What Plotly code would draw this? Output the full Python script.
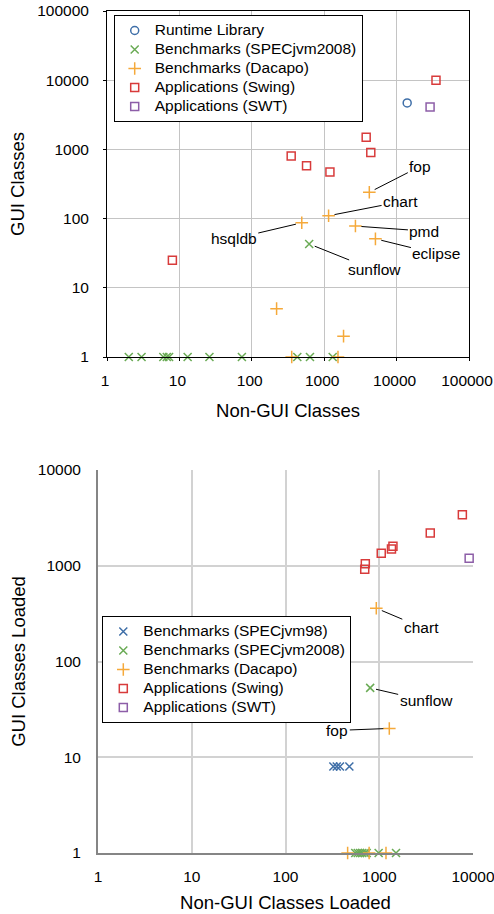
import numpy as np
import plotly.graph_objects as go

# ---------------- data: top chart (static class counts) ----------------
runtime_x = [14000]
runtime_y = [4700]
spec08_top_x = [2.0, 3.0, 6.0, 6.7, 7.2, 13, 26, 73, 425, 636, 1310, 620]
spec08_top_y = [1, 1, 1, 1, 1, 1, 1, 1, 1, 1, 1, 43]
dacapo_top_x = [4200, 1150, 490, 2700, 5100, 220, 1850, 356, 1550]
dacapo_top_y = [240, 110, 87, 78, 51, 5, 2, 1, 1]
swing_top_x = [35000, 3800, 4400, 350, 570, 1200, 8]
swing_top_y = [10000, 1500, 900, 800, 580, 470, 25]
swt_top_x = [29000]
swt_top_y = [4100]
top_labels = ["fop", "chart", "hsqldb", "pmd", "eclipse", "sunflow"]
top_label_x = [4200, 1150, 490, 2700, 5100, 620]
top_label_y = [240, 110, 87, 78, 51, 43]

# ---------------- data: bottom chart (loaded class counts) ----------------
spec98_x = [324, 352, 381, 480]
spec98_y = [8, 8, 8, 8]
spec08_bot_x = [800, 555, 590, 625, 660, 700, 735, 985, 1510]
spec08_bot_y = [53, 1, 1, 1, 1, 1, 1, 1, 1]
dacapo_bot_x = [930, 1280, 460, 780, 1180]
dacapo_bot_y = [360, 20, 1, 1, 1]
swing_bot_x = [7700, 3500, 1400, 1350, 1050, 710, 700]
swing_bot_y = [3400, 2200, 1600, 1500, 1350, 1050, 920]
swt_bot_x = [9100]
swt_bot_y = [1200]
bot_labels = ["chart", "sunflow", "fop"]
bot_label_x = [930, 800, 1280]
bot_label_y = [360, 53, 20]

series_names = {
    "runtime": "Runtime Library",
    "spec98": "Benchmarks (SPECjvm98)",
    "spec08": "Benchmarks (SPECjvm2008)",
    "dacapo": "Benchmarks (Dacapo)",
    "swing": "Applications (Swing)",
    "swt": "Applications (SWT)",
}

top_ticks = [1, 10, 100, 1000, 10000, 100000]
bot_ticks = [1, 10, 100, 1000, 10000]

BLUE = "#3f6fa8"
GREEN = "#6aab55"
ORANGE = "#f5a93a"
RED = "#d83b3b"
PURPLE = "#8d5ea8"
FONT = "Helvetica, Liberation Sans, Arial, sans-serif"

fig = go.Figure()


def legend_name(key):
    # text drawn at full size; legend row spacing driven by the smaller legend font
    return '<span style="font-size:15.5px">%s</span>' % series_names[key]


def add(x, y, key, sym, color, size, xa, ya, legend):
    fig.add_trace(go.Scatter(
        x=x, y=y, mode="markers", name=legend_name(key), xaxis=xa, yaxis=ya,
        legend=legend, cliponaxis=False, hoverinfo="x+y",
        marker=dict(symbol=sym, size=size, color=color,
                    line=dict(color=color, width=1.5)),
    ))


add(runtime_x, runtime_y, "runtime", "circle-open", BLUE, 8, "x", "y", "legend")
add(spec08_top_x, spec08_top_y, "spec08", "x-thin-open", GREEN, 8, "x", "y", "legend")
add(dacapo_top_x, dacapo_top_y, "dacapo", "cross-thin-open", ORANGE, 9, "x", "y", "legend")
add(swing_top_x, swing_top_y, "swing", "square-open", RED, 8, "x", "y", "legend")
add(swt_top_x, swt_top_y, "swt", "square-open", PURPLE, 8, "x", "y", "legend")

add(spec98_x, spec98_y, "spec98", "x-thin-open", BLUE, 8, "x2", "y2", "legend2")
add(spec08_bot_x, spec08_bot_y, "spec08", "x-thin-open", GREEN, 8, "x2", "y2", "legend2")
add(dacapo_bot_x, dacapo_bot_y, "dacapo", "cross-thin-open", ORANGE, 9, "x2", "y2", "legend2")
add(swing_bot_x, swing_bot_y, "swing", "square-open", RED, 8, "x2", "y2", "legend2")
add(swt_bot_x, swt_bot_y, "swt", "square-open", PURPLE, 8, "x2", "y2", "legend2")

# label offsets (pixels) for leader lines
top_off = {"fop": (51, -26), "chart": (72, -14), "hsqldb": (-68, 16),
           "pmd": (69, 5), "eclipse": (61, 15), "sunflow": (65, 26)}
bot_off = {"chart": (45, 19), "sunflow": (56, 13), "fop": (-52, 2)}

annots = []
for lab, lx, ly in zip(top_labels, top_label_x, top_label_y):
    ax, ay = top_off[lab]
    annots.append(dict(x=np.log10(lx), y=np.log10(ly), xref="x", yref="y",
                       text=lab, showarrow=True, arrowhead=0, arrowwidth=1,
                       arrowcolor="black", ax=ax, ay=ay, standoff=6,
                       font=dict(size=15.5, color="black", family=FONT)))
for lab, lx, ly in zip(bot_labels, bot_label_x, bot_label_y):
    ax, ay = bot_off[lab]
    annots.append(dict(x=np.log10(lx), y=np.log10(ly), xref="x2", yref="y2",
                       text=lab, showarrow=True, arrowhead=0, arrowwidth=1,
                       arrowcolor="black", ax=ax, ay=ay, standoff=6,
                       font=dict(size=15.5, color="black", family=FONT)))

tickfont = dict(size=15.5, color="black", family=FONT)
titlefont = dict(size=18.5, color="black", family=FONT)

fig.update_layout(
    width=494, height=914,
    margin=dict(l=0, r=0, t=0, b=0, autoexpand=False),
    paper_bgcolor="white", plot_bgcolor="white",
    font=dict(family=FONT, color="black"),
    annotations=annots,
    xaxis=dict(type="log", range=[0, 5], domain=[107 / 494, 469 / 494],
               anchor="y", tickmode="array", tickvals=top_ticks,
               ticktext=[str(t) for t in top_ticks], tickfont=tickfont,
               showgrid=True, gridcolor="#c4c4c4", gridwidth=1,
               showline=True, linecolor="black", linewidth=1, mirror=True,
               ticks="outside", ticklen=3, tickcolor="black",
               ticklabelstandoff=6, ticklabeloverflow="allow",
               ticklabelshift=-2, zeroline=False, automargin=False,
               title=dict(text="Non-GUI Classes", font=titlefont, standoff=16)),
    yaxis=dict(type="log", range=[0, 5], domain=[1 - 357 / 914, 1 - 11 / 914],
               anchor="x", tickmode="array", tickvals=top_ticks,
               ticktext=[str(t) for t in top_ticks], tickfont=tickfont,
               showgrid=True, gridcolor="#c4c4c4", gridwidth=1,
               showline=True, linecolor="black", linewidth=1, mirror=True,
               ticks="outside", ticklen=3, tickcolor="black",
               ticklabelstandoff=11, ticklabeloverflow="allow",
               zeroline=False, automargin=False,
               title=dict(text="GUI Classes", font=titlefont, standoff=7)),
    xaxis2=dict(type="log", range=[0, 4], domain=[98 / 494, 473 / 494],
                anchor="y2", tickmode="array", tickvals=bot_ticks,
                ticktext=[str(t) for t in bot_ticks], tickfont=tickfont,
                showgrid=True, gridcolor="#d2d2d2", gridwidth=1.5,
                showline=True, linecolor="#858585", linewidth=2, mirror=False,
                ticks="", ticklabelstandoff=8, ticklabeloverflow="allow",
                zeroline=False, automargin=False,
                title=dict(text="Non-GUI Classes Loaded", font=titlefont, standoff=12)),
    yaxis2=dict(type="log", range=[0, 4], domain=[1 - 853 / 914, 1 - 470 / 914],
                anchor="x2", tickmode="array", tickvals=bot_ticks,
                ticktext=[str(t) for t in bot_ticks], tickfont=tickfont,
                showgrid=True, gridcolor="#d2d2d2", gridwidth=1.5,
                showline=True, linecolor="#858585", linewidth=2, mirror=False,
                ticks="", ticklabelstandoff=12, ticklabeloverflow="allow",
                zeroline=False, automargin=False,
                title=dict(text="GUI Classes Loaded", font=titlefont, standoff=7)),
    legend=dict(x=113.7 / 494, y=1 - 15 / 914, xanchor="left", yanchor="top",
                bgcolor="white", bordercolor="black", borderwidth=1,
                font=dict(size=12, color="black", family=FONT),
                tracegroupgap=0, itemsizing="trace"),
    legend2=dict(x=102.3 / 494, y=1 - 616 / 914, xanchor="left", yanchor="top",
                 bgcolor="white", bordercolor="black", borderwidth=1,
                 font=dict(size=12, color="black", family=FONT),
                 tracegroupgap=0, itemsizing="trace"),
)

fig.write_html("out.html",
               config={"displayModeBar": False},
               post_script="document.body.style.margin='0';"
                           "document.body.style.overflow='hidden';")
